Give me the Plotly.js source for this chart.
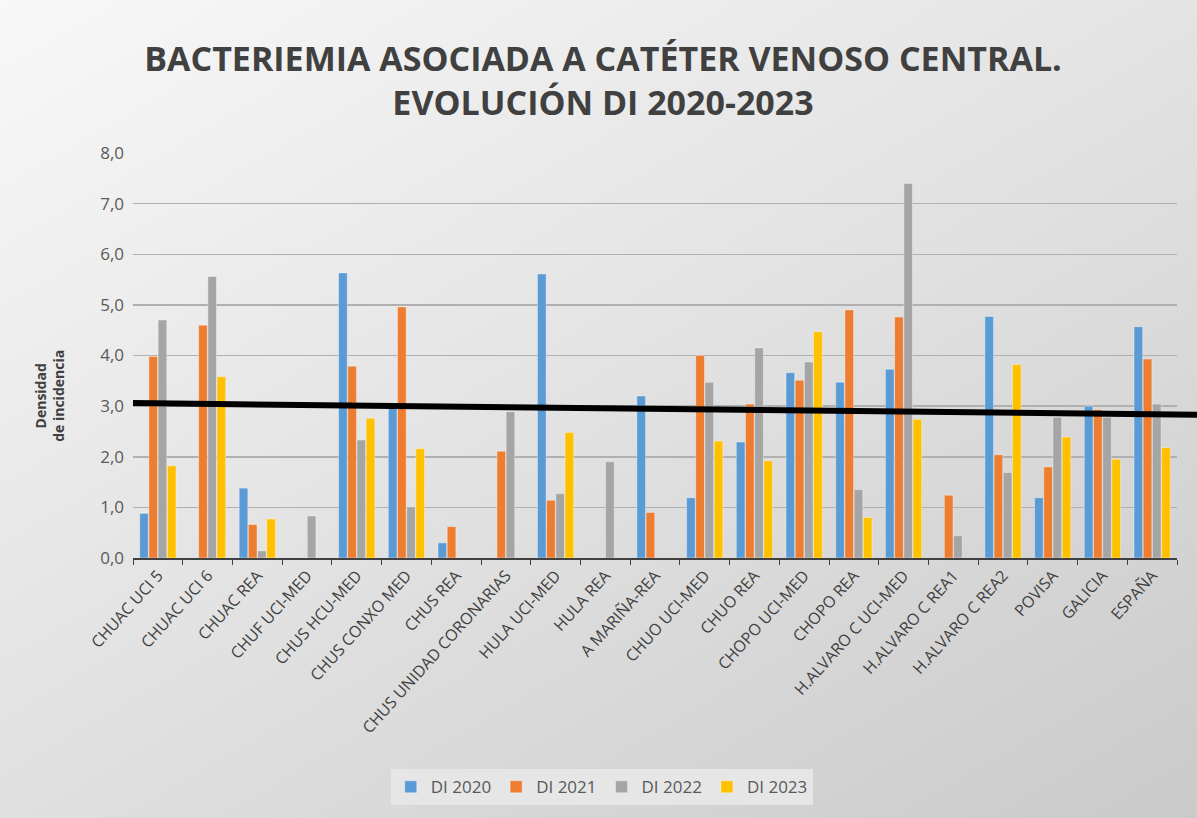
<!DOCTYPE html>
<html>
<head>
<meta charset="utf-8">
<script src="https://cdn.plot.ly/plotly-3.0.1.min.js"></script>
<style>
  html, body { margin: 0; padding: 0; }
  #chart {
    width: 1197px; height: 818px;
    background: linear-gradient(150deg, #f8f8f8 0%, #e4e4e4 45%, #cacaca 100%);
  }
</style>
</head>
<body>
<div id="chart"></div>
<script>
// Hospital units (categories)
const units = [
  'CHUAC UCI 5', 'CHUAC UCI 6', 'CHUAC REA', 'CHUF UCI-MED', 'CHUS HCU-MED',
  'CHUS CONXO MED', 'CHUS REA', 'CHUS UNIDAD CORONARIAS', 'HULA UCI-MED', 'HULA REA',
  'A MARIÑA-REA', 'CHUO UCI-MED', 'CHUO REA', 'CHOPO UCI-MED', 'CHOPO REA',
  'H.ALVARO C UCI-MED', 'H.ALVARO C REA1', 'H.ALVARO C REA2', 'POVISA', 'GALICIA', 'ESPAÑA'
];

// Density of incidence per year (null = no bar)
const di2020 = [0.88, null, 1.38, null, 5.63, 2.98, 0.30, null, 5.61, null,
  3.20, 1.19, 2.29, 3.66, 3.47, 3.73, null, 4.77, 1.19, 3.00, 4.57];
const di2021 = [3.98, 4.60, 0.66, null, 3.79, 4.96, 0.62, 2.11, 1.14, null,
  0.90, 4.00, 3.04, 3.51, 4.90, 4.76, 1.24, 2.04, 1.80, 2.93, 3.93];
const di2022 = [4.70, 5.56, 0.14, 0.83, 2.33, 1.01, null, 2.89, 1.27, 1.90,
  null, 3.47, 4.15, 3.87, 1.35, 7.40, 0.44, 1.69, 2.78, 2.78, 3.04];
const di2023 = [1.82, 3.58, 0.77, null, 2.76, 2.16, null, null, 2.48, null,
  null, 2.31, 1.92, 4.47, 0.80, 2.74, null, 3.82, 2.39, 1.95, 2.18];

// Trend line: value at left and right end
const trendEnds = [3.06, 2.83];

const seriesNames = ['DI 2020', 'DI 2021', 'DI 2022', 'DI 2023'];
const seriesColors = ['#5B9BD5', '#ED7D31', '#A5A5A5', '#FFC000'];
const seriesData = [di2020, di2021, di2022, di2023];

const traces = seriesData.map((vals, i) => ({
  type: 'bar',
  x: units,
  y: vals,
  name: seriesNames[i],
  marker: {
    color: seriesColors[i],
    line: { color: 'rgba(255,255,255,0.6)', width: 0.6 }
  },
  hoverinfo: 'x+y+name'
}));

const layout = {
  width: 1197,
  height: 818,
  paper_bgcolor: 'rgba(0,0,0,0)',
  plot_bgcolor: 'rgba(0,0,0,0)',
  separators: ',.',
  font: { family: 'Open Sans, sans-serif', color: '#595959' },
  margin: { l: 133, r: 20, t: 153, b: 255 },
  title: {
    text: 'BACTERIEMIA ASOCIADA A CATÉTER VENOSO CENTRAL.<br>EVOLUCIÓN DI 2020-2023',
    font: { family: 'Open Sans, sans-serif', size: 34, color: '#404040', weight: 'bold' },
    x: 603 / 1197,
    xref: 'container',
    xanchor: 'center',
    y: 1 - 71 / 818,
    yref: 'container',
    yanchor: 'middle'
  },
  barmode: 'group',
  bargap: 0.26,
  bargroupgap: 0.06,
  xaxis: {
    type: 'category',
    tickangle: -48,
    tickfont: { size: 16, color: '#404040' },
    ticks: 'outside',
    tickson: 'boundaries',
    ticklen: 5,
    tickcolor: '#404040',
    showline: true,
    linecolor: '#404040',
    linewidth: 2,
    showgrid: false
  },
  yaxis: {
    range: [0, 8],
    dtick: 1,
    tickformat: '.1f',
    tickfont: { size: 17, color: '#595959' },
    ticklabelstandoff: 8,
    showgrid: true,
    gridcolor: '#b0b0b0',
    gridwidth: 1.5,
    zeroline: false,
    showline: false,
    ticks: ''
  },
  annotations: [{
    text: '<b>Densidad<br>de incidencia</b>',
    xref: 'paper',
    yref: 'paper',
    x: -0.061,
    y: 0.4,
    xanchor: 'right',
    yanchor: 'middle',
    textangle: -90,
    showarrow: false,
    font: { size: 14, color: '#404040' }
  }],
  legend: {
    orientation: 'h',
    x: 0.449,
    xanchor: 'center',
    y: -0.566,
    yanchor: 'middle',
    bgcolor: '#e6e6e6',
    font: { size: 17, color: '#595959' },
    itemwidth: 30,
    traceorder: 'normal'
  },
  shapes: [{
    type: 'line',
    xref: 'paper',
    yref: 'y',
    x0: 0,
    x1: 1.02,
    y0: trendEnds[0],
    y1: trendEnds[1],
    line: { color: '#000000', width: 6 },
    layer: 'above'
  }]
};

Plotly.newPlot('chart', traces, layout, { displayModeBar: false, staticPlot: true });
</script>
</body>
</html>
